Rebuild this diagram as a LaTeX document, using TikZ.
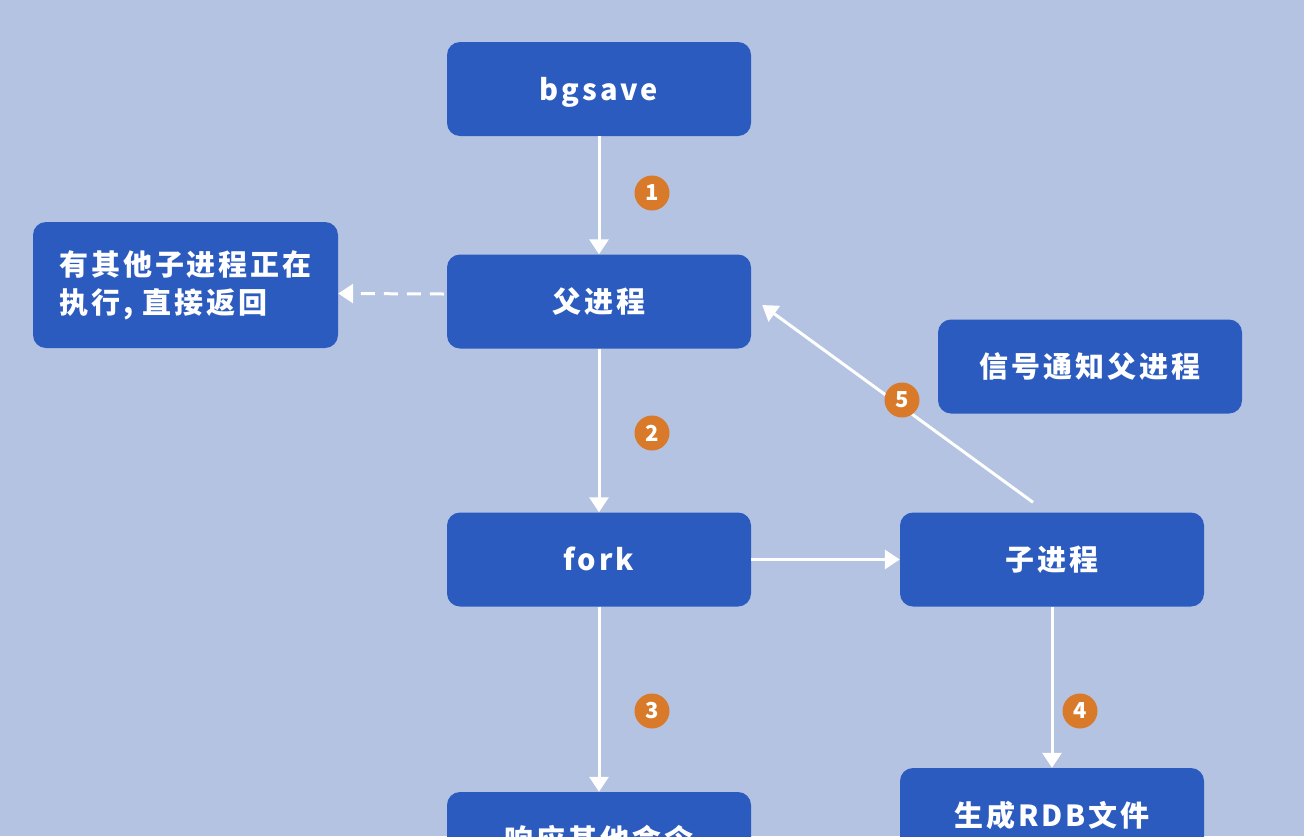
\documentclass[tikz,border=0pt]{standalone}
\usepackage{fontspec}
\usetikzlibrary{arrows.meta,calc}
\newfontfamily\cjk[LetterSpace=10]{Noto Sans CJK SC}
\definecolor{bgblue}{RGB}{180,195,226}
\definecolor{boxblue}{RGB}{44,91,191}
\definecolor{numorange}{RGB}{217,122,42}
\tikzset{
  procbox/.style={draw=none, fill=boxblue, rounded corners=13pt,
    minimum width=304pt, minimum height=94pt, inner sep=0pt,
    text height=26pt, text depth=4pt,
    text=white, font=\cjk\bfseries\fontsize{29}{38}\selectfont},
  flow/.style={draw=white, line width=3pt,
    -{Triangle[width=19pt,length=15pt]}},
  numdot/.style={circle, fill=numorange, minimum size=35pt, inner sep=0pt,
    text=white, font=\cjk\bfseries\fontsize{22}{22}\selectfont}
}
\begin{document}
\begin{tikzpicture}[x=1pt,y=-1pt]
  \useasboundingbox (0,0) rectangle (1304,836);
  \clip (0,0) rectangle (1304,836);
  \fill[bgblue] (0,0) rectangle (1304,836);

  % process boxes
  \node[procbox] (bgsave) at (599,89) {bgsave};
  \node[procbox] (parent) at (599,301.5) {父进程};
  \node[procbox] (fork)   at (599,559.5) {fork};
  \node[procbox] (resp)   at (599,839) {响应其他命令};
  \node[procbox, minimum width=305pt, minimum height=126pt, align=left,
        text height=, text depth=]
       (busy) at (185.5,285) {有其他子进程正在\\执行, 直接返回};
  \node[procbox] (signal) at (1090,366.5) {信号通知父进程};
  \node[procbox] (child)  at (1052,559.5) {子进程};
  \node[procbox] (rdb)    at (1052,815) {生成RDB文件};

  % connectors
  \draw[flow] (bgsave) -- (parent);
  \draw[flow, dash pattern=on 14pt off 9pt]
       ($(parent.west)+(-3,-7.5)$) -- ($(busy.east)+(0,8.5)$);
  \draw[flow] (parent) -- (fork);
  \draw[flow] (fork) -- (child);
  \draw[flow] (fork) -- (resp);
  \draw[flow] (child) -- (rdb);
  \draw[flow] ($(child.north)+(-19,-10)$) -- ($(parent.east)+(11,3.5)$);

  % step numbers
  \node[numdot] (n1) at (652,193) {1};
  \node[numdot] (n2) at (652,433) {2};
  \node[numdot] (n3) at (652,711) {3};
  \node[numdot] (n4) at (1080,711) {4};
  \node[numdot] (n5) at (902,400) {5};
\end{tikzpicture}
\end{document}
